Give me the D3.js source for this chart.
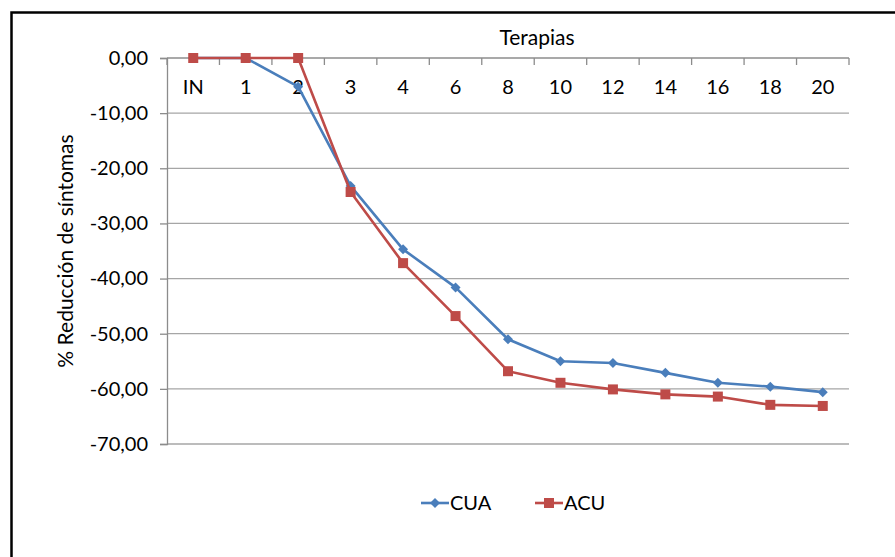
<!DOCTYPE html>
<html>
<head>
<meta charset="utf-8">
<script src="https://cdn.jsdelivr.net/npm/d3@7"></script>
<style>
  html, body { margin: 0; padding: 0; background: #fff; }
  svg { display: block; font-family: Lato, "Open Sans", sans-serif; }
</style>
</head>
<body>
<div id="chart"></div>
<script>
// categories (therapy sessions) and the two series
const sessions = ["IN", "1", "2", "3", "4", "6", "8", "10", "12", "14", "16", "18", "20"];
const cua = [0, 0, -5.2, -23.2, -34.7, -41.6, -51.0, -55.0, -55.3, -57.1, -58.9, -59.6, -60.6];
const acu = [0, 0, 0, -24.3, -37.2, -46.8, -56.8, -58.9, -60.1, -61.0, -61.4, -62.9, -63.1];
const yTicks = [0, -10, -20, -30, -40, -50, -60, -70];

const W = 895, H = 557;
const L = 167, R = 849, T = 58, B = 444;
const FS = 20;

const svg = d3.select("#chart").append("svg").attr("width", W).attr("height", H);

// outer frame (runs off the right / bottom edge in the original)
svg.append("rect").attr("x", 11.5).attr("y", 12.5).attr("width", W + 10).attr("height", H + 10)
  .attr("fill", "none").attr("stroke", "#000").attr("stroke-width", 2.5);

const x = d3.scaleBand().domain(sessions).range([L, R]);
const y = d3.scaleLinear().domain([-70, 0]).range([B, T]);

const fmt = v => d3.format(".2f")(v).replace(".", ",").replace("−", "-");

// horizontal gridlines
svg.append("g").selectAll("line").data(yTicks.filter(v => v !== 0)).join("line")
  .attr("x1", L).attr("x2", R).attr("y1", d => y(d)).attr("y2", d => y(d))
  .attr("stroke", "#a6a6a6").attr("stroke-width", 1.3);

// y axis
const yAxis = svg.append("g").attr("transform", `translate(${L},0)`)
  .call(d3.axisLeft(y).tickValues(yTicks).tickFormat(fmt).tickSize(7).tickPadding(12));
yAxis.select(".domain").attr("stroke", "#8c8c8c").attr("stroke-width", 1.3);
yAxis.selectAll(".tick line").attr("stroke", "#8c8c8c").attr("stroke-width", 1.3);
yAxis.selectAll(".tick text").attr("font-size", FS).attr("fill", "#000")
  .attr("font-family", "Lato, 'Open Sans', sans-serif");

// category axis along the zero line, ticks at band edges, labels below
const xg = svg.append("g");
xg.append("line").attr("x1", L).attr("x2", R).attr("y1", y(0)).attr("y2", y(0))
  .attr("stroke", "#8c8c8c").attr("stroke-width", 1.3);
xg.selectAll("line.tk").data(sessions.map(s => x(s)).concat([R])).join("line").attr("class", "tk")
  .attr("x1", d => d).attr("x2", d => d).attr("y1", y(0)).attr("y2", y(0) + 7)
  .attr("stroke", "#8c8c8c").attr("stroke-width", 1.3);
xg.selectAll("text").data(sessions).join("text")
  .attr("x", d => x(d) + x.bandwidth() / 2).attr("y", 94)
  .attr("text-anchor", "middle").attr("font-size", FS).attr("fill", "#000").text(d => d);

// axis titles
svg.append("text").attr("x", 537).attr("y", 45).attr("text-anchor", "middle")
  .attr("font-size", 21).attr("fill", "#000").text("Terapias");
svg.append("text").attr("transform", `translate(73,251) rotate(-90)`)
  .attr("text-anchor", "middle").attr("font-size", 21).attr("fill", "#000")
  .text("% Reducción de síntomas");

const cx = i => x(sessions[i]) + x.bandwidth() / 2;
const line = d3.line().x((d, i) => cx(i)).y(d => y(d));

const series = [
  { name: "CUA", values: cua, color: "#4a7ebb", marker: "diamond" },
  { name: "ACU", values: acu, color: "#be4b48", marker: "square" },
];

function drawMarker(g, kind, px, py, color) {
  if (kind === "diamond") {
    g.append("path").attr("d", `M${px},${py - 5}L${px + 5},${py}L${px},${py + 5}L${px - 5},${py}Z`)
      .attr("fill", color);
  } else {
    g.append("rect").attr("x", px - 5).attr("y", py - 5).attr("width", 10).attr("height", 10)
      .attr("fill", color);
  }
}

series.forEach(s => {
  const g = svg.append("g");
  g.append("path").datum(s.values).attr("d", line).attr("fill", "none")
    .attr("stroke", s.color).attr("stroke-width", 2.6).attr("stroke-linejoin", "round");
  s.values.forEach((v, i) => drawMarker(g, s.marker, cx(i), y(v), s.color));
});

// legend
const legX = [421, 535];
series.forEach((s, i) => {
  const g = svg.append("g");
  const lx = legX[i], ly = 503;
  g.append("line").attr("x1", lx).attr("x2", lx + 28).attr("y1", ly).attr("y2", ly)
    .attr("stroke", s.color).attr("stroke-width", 2.6);
  drawMarker(g, s.marker, lx + 14, ly, s.color);
  g.append("text").attr("x", lx + 29).attr("y", ly + 7).attr("font-size", FS).attr("fill", "#000")
    .text(s.name);
});
</script>
</body>
</html>
